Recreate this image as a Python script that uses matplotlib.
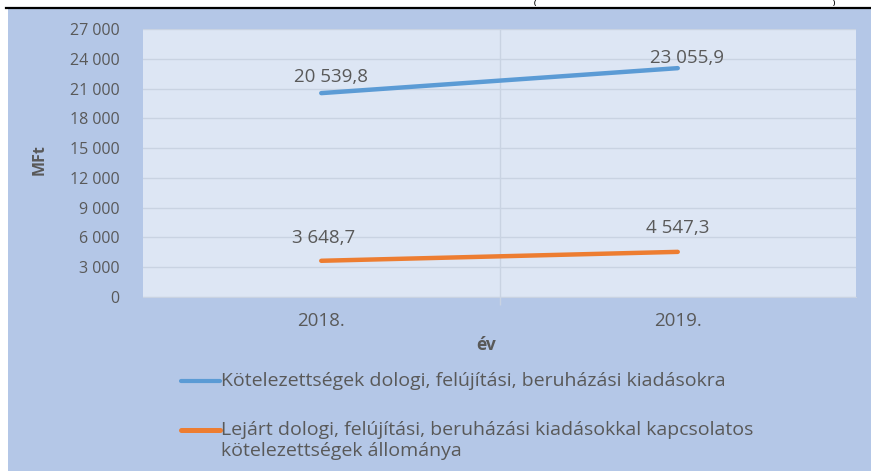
import matplotlib
matplotlib.use("Agg")
import matplotlib.pyplot as plt
from matplotlib.lines import Line2D
from matplotlib.patches import Rectangle
import numpy as np

plt.rcParams['font.family'] = ['Open Sans', 'DejaVu Sans']

# adatok
evek = ["2018.", "2019."]
kotelezettsegek = [20539.8, 23055.9]
lejart = [3648.7, 4547.3]
sorozat_nevek = [
    "Kötelezettségek dologi, felújítási, beruházási kiadásokra",
    "Lejárt dologi, felújítási, beruházási kiadásokkal kapcsolatos\nkötelezettségek állománya",
]
y_ticks = list(range(0, 27001, 3000))

W, H = 871, 471
szurke = "#595959"
kek = "#5B9BD5"
narancs = "#ED7D31"
hatter = "#B4C7E7"
rajzterulet = "#DDE6F4"
racs = "#C9D3E2"

fig = plt.figure(figsize=(W / 100, H / 100), dpi=100)
fig.patch.set_facecolor("white")

# háttér és a fenti fekete vonal (pixelben, felülről mérve)
fig.add_artist(Rectangle((8 / W, 0), 1.0, (471 - 9) / H,
                         transform=fig.transFigure, facecolor=hatter, edgecolor="none", zorder=0))
fig.add_artist(Line2D([6 / W, 1], [1 - 8 / H] * 2, transform=fig.transFigure, color="black", lw=1.6))
# a levágott cím maradéka
fig.text(535 / W, 1 - 6.5 / H, "(", fontsize=5, fontweight="bold", ha="center", va="bottom")
fig.text(834 / W, 1 - 6.5 / H, ")", fontsize=5, fontweight="bold", ha="center", va="bottom")

ax = fig.add_axes([143 / W, 1 - 297 / H, (856 - 143) / W, (297 - 29) / H])
ax.set_facecolor(rajzterulet)

x = np.arange(len(evek))
ax.plot(x, kotelezettsegek, color=kek, lw=3.2, solid_capstyle="round", zorder=3)
ax.plot(x, lejart, color=narancs, lw=3.2, solid_capstyle="round", zorder=3)

def fmt(v, dec=0):
    return f"{v:,.{dec}f}".replace(",", " ").replace(".", ",")

# címkék eltolása pixelben
eltolas = [[(10, 16), (9, 10)], [(2, 23), (0, 24)]]
for si, ser in enumerate([kotelezettsegek, lejart]):
    for i, v in enumerate(ser):
        dx, dy = eltolas[si][i]
        ax.annotate(fmt(v, 1), (x[i], v), xytext=(dx * 0.72, dy * 0.72), textcoords="offset points",
                    ha="center", va="center", fontsize=13.5, color=szurke, zorder=4)

ax.set_xlim(-0.5, 1.5)
ax.set_ylim(0, 27000)
ax.set_yticks(y_ticks)
ax.set_yticklabels([fmt(t) for t in y_ticks])
ax.set_xticks(x)
ax.set_xticklabels(evek)
ax.set_xticks([0.5], minor=True)
ax.tick_params(axis="y", length=0, pad=17, labelsize=11.5, labelcolor=szurke)
ax.tick_params(axis="x", which="major", length=0, pad=11, labelsize=13.5, labelcolor=szurke)
ax.tick_params(axis="x", which="minor", length=6, width=1, color=racs)
ax.grid(axis="y", color=racs, lw=1)
ax.grid(axis="x", which="minor", color=racs, lw=1)
ax.set_axisbelow(True)
for s in ["top", "right", "left"]:
    ax.spines[s].set_visible(False)
ax.spines["bottom"].set_color(racs)

fig.text(40 / W, 1 - 160 / H, "MFt", rotation=90, ha="center", va="center",
         fontsize=11.5, fontweight="bold", color=szurke)
fig.text(486 / W, 1 - 345 / H, "év", ha="center", va="center",
         fontsize=12.5, fontweight="bold", color=szurke)

# jelmagyarázat kézzel
leg_y = [381, 430]
for szin, nev, yy, lw in zip([kek, narancs], sorozat_nevek, leg_y, [3.0, 3.6]):
    fig.add_artist(Line2D([181 / W, 220 / W], [1 - yy / H] * 2, transform=fig.transFigure,
                          color=szin, lw=lw, solid_capstyle="round"))
    fig.text(221 / W, 1 - (yy - 9) / H, nev, ha="left", va="top", fontsize=14,
             color=szurke, linespacing=1.2)

fig.savefig("out.png", dpi=100)
